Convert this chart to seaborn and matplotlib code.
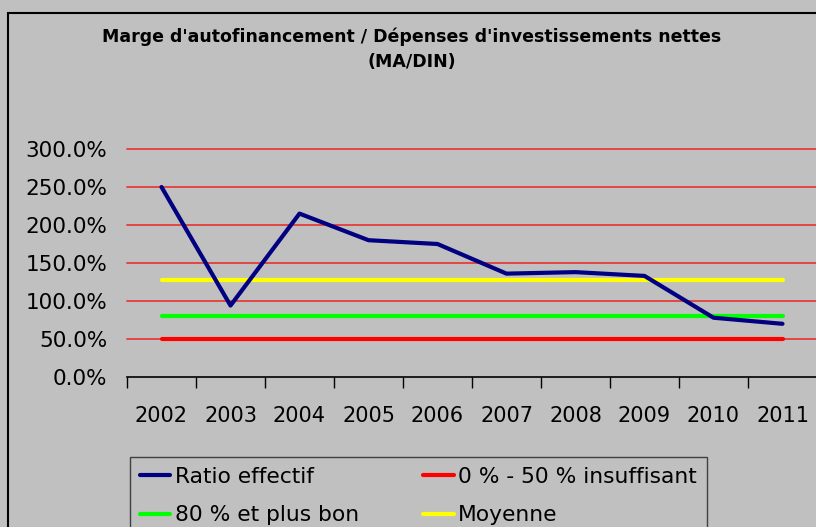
import numpy as np
import pandas as pd
import matplotlib
matplotlib.use("Agg")
import matplotlib.pyplot as plt
import seaborn as sns
from matplotlib.patches import Rectangle
from matplotlib.ticker import FuncFormatter, FixedLocator, NullFormatter

# Données (en %)
annees = ["2002", "2003", "2004", "2005", "2006", "2007", "2008", "2009", "2010", "2011"]
ratio_effectif = [250.0, 94.0, 215.0, 180.0, 175.0, 136.0, 138.0, 133.0, 78.0, 70.0]
seuil_insuffisant = [50.0] * len(annees)
seuil_bon = [80.0] * len(annees)
moyenne = [127.0] * len(annees)

noms = ["Ratio effectif", "0 % - 50 % insuffisant", "80 % et plus bon", "Moyenne"]
couleurs = ["#000080", "#FF0000", "#00FF00", "#FFFF00"]

df = pd.concat([
    pd.DataFrame({"pos": range(len(annees)), "valeur": vals, "serie": nom})
    for nom, vals in zip(noms, [ratio_effectif, seuil_insuffisant, seuil_bon, moyenne])
])

GRIS = "#C0C0C0"
sns.set_theme(style="white")
plt.rcParams["font.family"] = ["DejaVu Sans"]
plt.rcParams["text.color"] = "black"

fig = plt.figure(figsize=(8.16, 5.27), dpi=100, facecolor=GRIS)
ax = fig.add_axes([127 / 816, 1 - 377 / 527, 690 / 816, 228 / 527])
ax.set_facecolor(GRIS)

# grille rouge
for v in [50, 100, 150, 200, 250, 300]:
    ax.axhline(v, color="#E83030", lw=1.2, zorder=1, clip_on=False)

# lignes de référence d'abord, ratio par-dessus
ordre = ["0 % - 50 % insuffisant", "80 % et plus bon", "Moyenne", "Ratio effectif"]
for nom in ordre:
    sub = df[df["serie"] == nom]
    sns.lineplot(data=sub, x="pos", y="valeur", ax=ax,
                 color=couleurs[noms.index(nom)], lw=3, label=nom,
                 legend=False, zorder=3 if nom == "Ratio effectif" else 2)

ax.set_xlim(-0.5, len(annees) - 0.5)
ax.set_ylim(0, 300)
ax.set_xlabel("")
ax.set_ylabel("")

ax.yaxis.set_major_locator(FixedLocator([0, 50, 100, 150, 200, 250, 300]))
ax.yaxis.set_major_formatter(FuncFormatter(lambda v, p: f"{v:.1f}%"))
ax.tick_params(axis="y", length=0, pad=14, labelsize=15.5, colors="black")

ax.xaxis.set_major_locator(FixedLocator(np.arange(-0.5, len(annees), 1.0)))
ax.xaxis.set_major_formatter(NullFormatter())
ax.xaxis.set_minor_locator(FixedLocator(range(len(annees))))
ax.set_xticklabels(annees, minor=True)
ax.tick_params(axis="x", which="major", direction="out", length=8, width=1,
               color="black", bottom=True)
ax.tick_params(axis="x", which="minor", length=0, pad=21, labelsize=15,
               colors="black", bottom=True)

for s in ["top", "right", "left"]:
    ax.spines[s].set_visible(False)
ax.spines["bottom"].set_color("black")
ax.spines["bottom"].set_linewidth(1.2)

fig.text(412 / 816, 1 - 37 / 527, "Marge d'autofinancement / Dépenses d'investissements nettes",
         ha="center", va="center", fontsize=12.5, fontweight="bold", color="black")
fig.text(412 / 816, 1 - 62 / 527, "(MA/DIN)",
         ha="center", va="center", fontsize=12.5, fontweight="bold", color="black")

# légende (remplie par colonnes)
handles = {l.get_label(): l for l in ax.get_lines() if l.get_label() in noms}
ordre_leg = ["Ratio effectif", "80 % et plus bon", "0 % - 50 % insuffisant", "Moyenne"]
leg = fig.legend([handles[n] for n in ordre_leg], ordre_leg, ncol=2,
                 loc="upper left", bbox_to_anchor=(130 / 816, 1 - 457 / 527),
                 bbox_transform=fig.transFigure, fontsize=15.7, frameon=True,
                 fancybox=False, framealpha=1, facecolor=GRIS, edgecolor="#404040",
                 handlelength=1.4, handletextpad=0.2, columnspacing=2.95,
                 labelspacing=0.85, borderpad=0.45, borderaxespad=0)
leg.get_frame().set_linewidth(1.0)
for t in leg.get_texts():
    t.set_color("black")

# cadre du graphique
fig.patches.append(Rectangle((8 / 816, -0.1), 1.5, 1.1 - 13 / 527, transform=fig.transFigure,
                             fill=False, edgecolor="black", lw=1.5))

fig.savefig("out.png", dpi=100, facecolor=GRIS)
